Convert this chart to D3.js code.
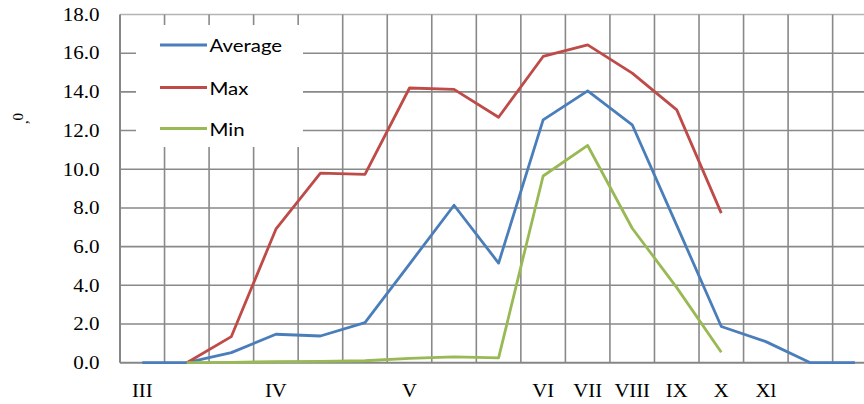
<!DOCTYPE html>
<html>
<head>
<meta charset="utf-8">
<script src="https://cdn.jsdelivr.net/npm/d3@7"></script>
<style>
  html, body { margin: 0; padding: 0; background: #fff; }
  svg { display: block; }
</style>
</head>
<body>
<div id="chart"></div>
<script>
// Monthly temperature series (17 periods, roman-numeral month marks)
const periods = d3.range(17);
const periodLabels = ["III", "", "", "IV", "", "", "V", "", "", "VI", "VII", "VIII", "IX", "X", "Xl", "", ""];
const averageValues = [0, 0, 0.52, 1.47, 1.38, 2.07, 5.1, 8.14, 5.15, 12.55, 14.05, 12.3, 7.1, 1.87, 1.09, 0, 0];
const maxValues = [null, 0, 1.35, 6.9, 9.8, 9.74, 14.2, 14.13, 12.69, 15.83, 16.43, 14.97, 13.07, 7.73, null, null, null];
const minValues = [null, 0, 0.02, 0.05, 0.07, 0.1, 0.22, 0.3, 0.25, 9.65, 11.23, 6.95, 3.88, 0.54, null, null, null];
const yTicks = [0, 2, 4, 6, 8, 10, 12, 14, 16, 18];
const seriesNames = ["Average", "Max", "Min"];

const W = 864, H = 404;
const plotLeft = 120, plotTop = 14.5, plotBottom = 362.7, bandW = 44.54;

const svg = d3.select("#chart").append("svg").attr("width", W).attr("height", H);

const x = d3.scaleBand().domain(periods).range([plotLeft, plotLeft + bandW * periods.length]).paddingInner(0).paddingOuter(0);
const y = d3.scaleLinear().domain([0, 18]).range([plotBottom, plotTop]);

const gridColor = "#898989";

// horizontal grid lines
svg.append("g").selectAll("line").data(yTicks.filter(t => t > 0)).join("line")
  .attr("x1", plotLeft).attr("x2", W)
  .attr("y1", d => y(d)).attr("y2", d => y(d))
  .attr("stroke", d => d === 18 ? "#b4b4b4" : gridColor)
  .attr("stroke-width", 1.6);

// vertical grid lines at band boundaries
svg.append("g").selectAll("line").data(periods.slice(1)).join("line")
  .attr("x1", d => x(d)).attr("x2", d => x(d))
  .attr("y1", y(18)).attr("y2", plotBottom)
  .attr("stroke", gridColor).attr("stroke-width", 1.6);

// axis lines
svg.append("line").attr("x1", plotLeft).attr("x2", plotLeft).attr("y1", y(18)).attr("y2", plotBottom)
  .attr("stroke", "#868686").attr("stroke-width", 2);
svg.append("line").attr("x1", plotLeft).attr("x2", W).attr("y1", plotBottom).attr("y2", plotBottom)
  .attr("stroke", "#868686").attr("stroke-width", 2);

// y tick labels
svg.append("g").selectAll("text").data(yTicks).join("text")
  .attr("transform", d => `translate(99.5,${y(d)}) scale(1.17,1)`)
  .attr("text-anchor", "end")
  .attr("dy", "0.35em")
  .attr("font-family", "'Liberation Serif', 'Times New Roman', serif")
  .attr("font-size", 18)
  .attr("fill", "#000")
  .text(d => d.toFixed(1));

// x category labels
svg.append("g").selectAll("text").data(periods.filter(i => periodLabels[i] !== "")).join("text")
  .attr("transform", d => `translate(${x(d) + bandW / 2},391) scale(1.15,1)`)
  .attr("text-anchor", "middle")
  .attr("dy", "0.35em")
  .attr("font-family", "'Liberation Serif', 'Times New Roman', serif")
  .attr("font-size", 18)
  .attr("fill", "#000")
  .text(d => periodLabels[d]);

// small rotated axis caption
svg.append("text")
  .attr("transform", "translate(17.7,116.7) rotate(-90)")
  .attr("text-anchor", "middle").attr("dy", "0.35em")
  .attr("font-family", "'Liberation Serif', serif").attr("font-size", 15)
  .attr("fill", "#000").text("0");
svg.append("text")
  .attr("transform", "translate(27.5,122) rotate(-90)")
  .attr("text-anchor", "middle")
  .attr("font-family", "'Liberation Serif', serif").attr("font-size", 15)
  .attr("fill", "#000").text(",");

// series lines
const colors = ["#4a7ebb", "#be4b48", "#98b954"];
const seriesData = [averageValues, maxValues, minValues];
const line = d3.line()
  .defined(d => d.v != null)
  .x(d => x(d.i) + bandW / 2)
  .y(d => y(d.v));

svg.append("g").selectAll("path").data(seriesData).join("path")
  .attr("d", vals => line(vals.map((v, i) => ({ i, v }))))
  .attr("fill", "none")
  .attr("stroke", (d, k) => colors[k])
  .attr("stroke-width", 2.8)
  .attr("stroke-linejoin", "round");

// legend
const legend = svg.append("g");
legend.append("rect").attr("x", 136).attr("y", 25).attr("width", 167).attr("height", 122).attr("fill", "#fff");
const legendY = [45, 87.5, 128.5];
seriesNames.forEach((name, k) => {
  legend.append("line")
    .attr("x1", 160).attr("x2", 207)
    .attr("y1", legendY[k]).attr("y2", legendY[k])
    .attr("stroke", colors[k]).attr("stroke-width", 2.8);
  legend.append("text")
    .attr("transform", `translate(209.5,${legendY[k] + 1.5}) scale(1.2,1)`)
    .attr("dy", "0.35em")
    .attr("font-family", "Lato, 'Open Sans', sans-serif")
    .attr("font-size", 17)
    .attr("fill", "#000")
    .text(name);
});
</script>
</body>
</html>
